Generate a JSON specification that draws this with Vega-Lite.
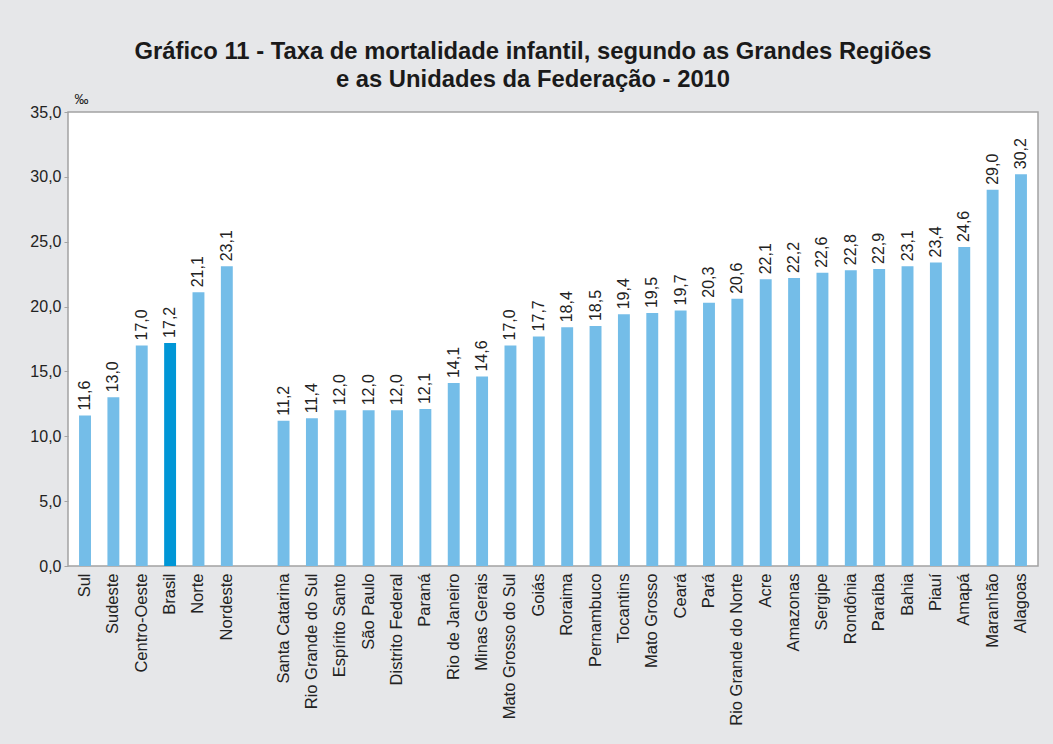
{
  "$schema": "https://vega.github.io/schema/vega-lite/v6.json",
  "width": 970,
  "height": 454,
  "autosize": {"type": "none"},
  "padding": {"left": 68, "top": 112, "right": 15, "bottom": 178},
  "background": "#e6e7e9",
  "config": {
    "font": "Liberation Sans",
    "locale": {"number": {"decimal": ",", "thousands": ".", "grouping": [3], "currency": ["R$", ""]}},
    "view": {"fill": "white", "stroke": "#a3a3a3", "strokeWidth": 1.5}
  },
  "title": {
    "text": ["Gráfico 11 - Taxa de mortalidade infantil, segundo as Grandes Regiões", "e as Unidades da Federação - 2010"],
    "fontSize": 23.8,
    "fontWeight": "bold",
    "color": "#1a1a1a",
    "lineHeight": 28,
    "anchor": "middle",
    "dx": -20,
    "offset": 0
  },
  "data": {
    "values": [
      {"local": "Sul", "taxa": 11.6},
      {"local": "Sudeste", "taxa": 13.0},
      {"local": "Centro-Oeste", "taxa": 17.0},
      {"local": "Brasil", "taxa": 17.2},
      {"local": "Norte", "taxa": 21.1},
      {"local": "Nordeste", "taxa": 23.1},
      {"local": "Santa Catarina", "taxa": 11.2},
      {"local": "Rio Grande do Sul", "taxa": 11.4},
      {"local": "Espírito Santo", "taxa": 12.0},
      {"local": "São Paulo", "taxa": 12.0},
      {"local": "Distrito Federal", "taxa": 12.0},
      {"local": "Paraná", "taxa": 12.1},
      {"local": "Rio de Janeiro", "taxa": 14.1},
      {"local": "Minas Gerais", "taxa": 14.6},
      {"local": "Mato Grosso do Sul", "taxa": 17.0},
      {"local": "Goiás", "taxa": 17.7},
      {"local": "Roraima", "taxa": 18.4},
      {"local": "Pernambuco", "taxa": 18.5},
      {"local": "Tocantins", "taxa": 19.4},
      {"local": "Mato Grosso", "taxa": 19.5},
      {"local": "Ceará", "taxa": 19.7},
      {"local": "Pará", "taxa": 20.3},
      {"local": "Rio Grande do Norte", "taxa": 20.6},
      {"local": "Acre", "taxa": 22.1},
      {"local": "Amazonas", "taxa": 22.2},
      {"local": "Sergipe", "taxa": 22.6},
      {"local": "Rondônia", "taxa": 22.8},
      {"local": "Paraíba", "taxa": 22.9},
      {"local": "Bahia", "taxa": 23.1},
      {"local": "Piauí", "taxa": 23.4},
      {"local": "Amapá", "taxa": 24.6},
      {"local": "Maranhão", "taxa": 29.0},
      {"local": "Alagoas", "taxa": 30.2}
    ]
  },
  "encoding": {
    "x": {
      "field": "local",
      "type": "nominal",
      "scale": {
        "domain": ["Sul", "Sudeste", "Centro-Oeste", "Brasil", "Norte", "Nordeste", " ", "Santa Catarina", "Rio Grande do Sul", "Espírito Santo", "São Paulo", "Distrito Federal", "Paraná", "Rio de Janeiro", "Minas Gerais", "Mato Grosso do Sul", "Goiás", "Roraima", "Pernambuco", "Tocantins", "Mato Grosso", "Ceará", "Pará", "Rio Grande do Norte", "Acre", "Amazonas", "Sergipe", "Rondônia", "Paraíba", "Bahia", "Piauí", "Amapá", "Maranhão", "Alagoas"],
        "paddingInner": 0.58,
        "paddingOuter": 0.39
      },
      "axis": {
        "title": null,
        "labelAngle": -90,
        "labelFontSize": 16.5,
        "labelColor": "#222222",
        "labelPadding": 7,
        "ticks": false,
        "domain": false
      }
    },
    "y": {
      "field": "taxa",
      "type": "quantitative",
      "scale": {"domain": [0, 35], "nice": false},
      "axis": {
        "title": "‰",
        "titleAngle": 0,
        "titleX": 6,
        "titleY": -6,
        "titleAlign": "left",
        "titleBaseline": "bottom",
        "titleFontSize": 14,
        "titleFontWeight": "normal",
        "titleColor": "#222222",
        "values": [0, 5, 10, 15, 20, 25, 30, 35],
        "format": ".1f",
        "labelFontSize": 16,
        "labelColor": "#222222",
        "labelPadding": 3,
        "tickSize": 4,
        "tickColor": "#a3a3a3",
        "domain": false,
        "grid": false
      }
    }
  },
  "layer": [
    {
      "mark": {"type": "bar"},
      "encoding": {
        "color": {
          "condition": {"test": "datum.local === 'Brasil'", "value": "#0096d6"},
          "value": "#74bde8"
        }
      }
    },
    {
      "mark": {"type": "text", "angle": 270, "align": "left", "baseline": "middle", "dx": 5, "fontSize": 16, "color": "#222222"},
      "encoding": {
        "text": {"field": "taxa", "type": "quantitative", "format": ".1f"}
      }
    }
  ]
}
